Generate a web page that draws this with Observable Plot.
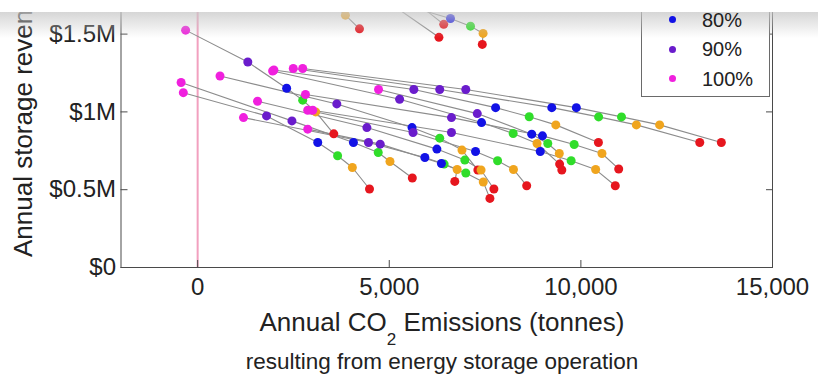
<!DOCTYPE html>
<html><head><meta charset="utf-8">
<script src="https://cdn.jsdelivr.net/npm/d3@7"></script>
<script src="https://cdn.jsdelivr.net/npm/@observablehq/plot@0.6"></script>
<style>
html,body{margin:0;padding:0;background:#fff;}
#wrap{position:relative;width:818px;height:375px;overflow:hidden;font-family:"Liberation Sans",Arial,sans-serif;background:#fff;}
#chart{position:absolute;left:0;top:0;}
#topwhite{position:absolute;left:0;top:0;width:818px;height:12px;background:#fff;z-index:5}
#shade{position:absolute;left:0;top:12px;width:818px;height:26px;background:linear-gradient(rgba(200,200,200,0.75),rgba(255,255,255,0));z-index:5}
#legend{position:absolute;left:641px;top:-60px;width:129px;height:157px;border:1px solid #6a6a6a;background:#fff;z-index:3;box-sizing:border-box}
.ldot{position:absolute;width:7px;height:7px;border-radius:50%;z-index:6}
.ltxt{position:absolute;font-size:20px;color:#222;z-index:6;line-height:20px}
</style></head>
<body>
<div id="wrap"><div id="chart"></div><div id="legend"></div><div id="topwhite"></div><div id="shade"></div></div>
<script>
// efficiency levels (point colours), in the order each series is traced
const levelKeys = ["100%", "90%", "80%", "level4", "level5", "level6"];
const levelColors = ["#f020de", "#6a1ccc", "#1212e6", "#30dd2a", "#f0a51e", "#e6161e"];

// legend (visible entries)
const legendLabels = ["80%", "90%", "100%"];
const legendColors = ["#1212e6", "#6a1ccc", "#f020de"];

// axes
const xTicks = [0, 5000, 10000, 15000];
const xTickLabels = ["0", "5,000", "10,000", "15,000"];
const yTicks = [0, 500000, 1000000, 1500000];
const yTickLabels = ["$0", "$0.5M", "$1M", "$1.5M"];

const seriesNames = ["S1","S2","S3","S4","S5","S6","S7","S8","S9","S10","S11","S12","S13","S14","S15","T1","T2","T3","T4"];

// annual CO2 emissions (tonnes), per series, per level
const emissions = [
  [2741, 6997, 9882, 11060, 12055, 13665],
  [2495, 6317, 9241, 10463, 11448, 13102],
  [1990, 5641, 7775, 8652, 9346, 10458],
  [-314, 1309, 2322, 2741, 3081, 3552],
  [-374, 1798, 3134, 3652, 4037, 4484],
  [-432, 2461, 4065, 4712, 5018, 5602],
  [584, 3631, 5594, 6317, 6898, 7312],
  [1956, 5270, 7408, 8233, 8856, 9445],
  [4720, 7296, 8717, 9136, 9437, 9503],
  [2814, 6623, 8997, 9825, 10550, 10987],
  [1563, 4416, 6243, 6971, 7395, 7730],
  [2872, 5620, 7251, 7827, 8241, 8586],
  [3003, 6623, 8940, 9746, 10385, 10898],
  [1196, 4458, 5929, 6432, 6772, 6710],
  [2872, 4764, 6361, 6997, 7453, 7626],
  [null, null, null, 3272, 3856, 4223],
  [null, null, null, null, 4830, 6296],
  [null, null, null, null, 5563, 6421],
  [null, 4791, 6597, 7120, 7448, 7427]
];

// annual storage revenue ($), per series, per level
const revenue = [
  [1278800, 1144200, 1027500, 967900, 916600, 803200],
  [1278800, 1144200, 1027500, 967900, 916600, 803200],
  [1269200, 1144200, 1027500, 969200, 916600, 803200],
  [1525600, 1320500, 1151900, 1075600, 1000000, 858900],
  [1123700, 974300, 803200, 717900, 642900, 504500],
  [1189100, 942300, 803200, 739100, 681400, 575000],
  [1230700, 1051200, 899300, 831400, 754500, 626300],
  [1262800, 1081400, 931400, 860900, 796800, 664700],
  [1144200, 989100, 857000, 796800, 732700, 626300],
  [1112100, 963400, 846100, 790400, 732700, 633300],
  [1068500, 899300, 760900, 690400, 626300, 504500],
  [1010900, 867300, 745500, 685900, 630100, 525600],
  [1010900, 867300, 745500, 685900, 629500, 525600],
  [963400, 803200, 707000, 664700, 630100, 553200],
  [889100, 792900, 668600, 607000, 549400, 444200],
  [null, null, null, 1743500, 1621700, 1533900],
  [null, null, null, null, 1730700, 1479400],
  [null, null, null, null, 1730700, 1562800],
  [null, 1730700, 1600600, 1551200, 1504400, 1433900]
];

const rows = [];
seriesNames.forEach((s, i) => levelKeys.forEach((lv, j) => {
  const x = emissions[i][j], y = revenue[i][j];
  if (x != null && y != null) rows.push({series: s, level: lv, x, y});
}));

const chart = Plot.plot({
  width: 818, height: 375,
  marginLeft: 120.5, marginRight: 46, marginTop: 0, marginBottom: 108,
  style: {fontFamily: "'Liberation Sans', Arial, sans-serif", fontSize: "24px", color: "#222", background: "transparent", overflow: "visible"},
  x: {domain: [-2000, 15000]},
  y: {domain: [0, 1716000]},
  color: {domain: levelKeys, range: levelColors},
  marks: [
    Plot.ruleX([0], {stroke: "#f2a0bf", strokeWidth: 2}),
    Plot.line(rows, {x: "x", y: "y", z: "series", stroke: "#8c8c8c", strokeWidth: 1.1, clip: true}),
    Plot.dot(rows, {x: "x", y: "y", fill: "level", r: 4.5, clip: true}),
    Plot.frame({stroke: "#4a4a4a"}),
    Plot.axisX(xTicks, {tickSize: -7, tickPadding: 17, tickFormat: d => xTickLabels[xTicks.indexOf(d)], label: null, stroke: "#4a4a4a", fontSize: 24}),
    Plot.axisY(yTicks, {tickSize: -7, tickPadding: 12, tickFormat: d => yTickLabels[yTicks.indexOf(d)], label: null, stroke: "#4a4a4a", fontSize: 24}),
    Plot.axisY(yTicks, {anchor: "right", tickSize: -7, tickFormat: () => "", label: null, stroke: "#4a4a4a"})
  ]
});
document.getElementById("chart").appendChild(chart);

const svg = d3.select(chart);
const xl = svg.append("text").attr("x", 442).attr("y", 331).attr("text-anchor", "middle")
  .attr("font-size", 26).attr("fill", "#222");
xl.append("tspan").text("Annual CO");
xl.append("tspan").attr("font-size", 17).attr("dy", 14).text("2");
xl.append("tspan").attr("dy", -14).text(" Emissions (tonnes)");
svg.append("text").attr("x", 442).attr("y", 369).attr("text-anchor", "middle")
  .attr("font-size", 22.5).attr("fill", "#222").text("resulting from energy storage operation");
svg.append("text").attr("transform", "translate(32,257) rotate(-90)").attr("text-anchor", "start")
  .attr("font-size", 26).attr("fill", "#222").text("Annual storage revenue");

const wrap = document.getElementById("wrap");
legendLabels.forEach((lab, i) => {
  const cy = 19.5 + i * 29.5;
  const dot = document.createElement("div");
  dot.className = "ldot";
  dot.style.left = (672 - 3.5) + "px";
  dot.style.top = (cy - 3.5) + "px";
  dot.style.background = legendColors[i];
  wrap.appendChild(dot);
  const t = document.createElement("div");
  t.className = "ltxt";
  t.style.left = "702px";
  t.style.top = (cy - 10) + "px";
  t.textContent = lab;
  wrap.appendChild(t);
});
</script>
</body></html>
